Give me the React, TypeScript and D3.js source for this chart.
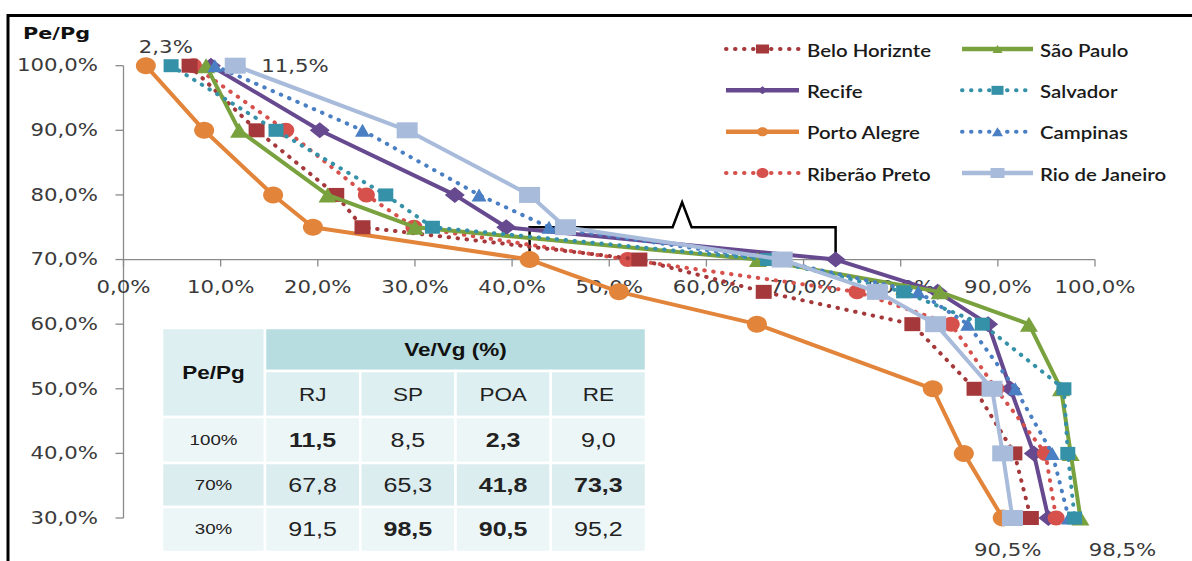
import React from "react";
import * as d3 from "d3";

// ---------- data ----------
const levels = [100, 90, 80, 75, 70, 65, 60, 50, 40, 30];
const beloHorizonte = [6.8, 13.7, 21.9, 24.6, 53.1, 65.9, 81.2, 87.6, 91.7, 93.4];
const recife = [9.0, 20.2, 34.1, 39.4, 73.3, 83.8, 89.0, 91.3, 93.7, 95.2];
const portoAlegre = [2.3, 8.3, 15.4, 19.5, 41.8, 51.0, 65.2, 83.3, 86.5, 90.5];
const ribeiraoPreto = [7.2, 16.7, 25.0, 29.9, 51.9, 75.5, 85.2, 89.8, 94.9, 96.0];
const saoPaulo = [8.5, 11.9, 21.0, 30.0, 65.3, 84.0, 93.2, 96.5, 97.5, 98.5];
const salvador = [4.9, 15.7, 27.0, 31.8, 66.3, 80.3, 88.4, 96.8, 97.2, 97.9];
const campinas = [9.4, 24.6, 36.6, 43.8, 66.8, 81.8, 86.9, 91.8, 95.6, 97.3];
const rioDeJaneiro = [11.5, 29.2, 41.8, 45.5, 67.8, 77.6, 83.6, 89.4, 90.5, 91.5];

const xTicks = [0, 10, 20, 30, 40, 50, 60, 70, 80, 90, 100];
const yTicks = [30, 40, 50, 60, 70, 80, 90, 100];

const tableCols = ["RJ", "SP", "POA", "RE"];
const tableRows = ["100%", "70%", "30%"];
const tableValues = [
  ["11,5", "8,5", "2,3", "9,0"],
  ["67,8", "65,3", "41,8", "73,3"],
  ["91,5", "98,5", "90,5", "95,2"],
];
const tableBold = [
  [true, false, true, false],
  [false, false, true, true],
  [false, true, true, false],
];

// ---------- styles ----------
type Marker = "square" | "circle" | "diamond" | "triangle";
interface Series {
  name: string;
  values: number[];
  color: string;
  dotted: boolean;
  marker: Marker;
  mw: number;
  mh: number;
  lw: number;
  lh: number;
}

const S: Record<string, Series> = {
  bh: { name: "Belo Horiznte", values: beloHorizonte, color: "#A5383A", dotted: true, marker: "square", mw: 16, mh: 14, lw: 13, lh: 9 },
  re: { name: "Recife", values: recife, color: "#66498F", dotted: false, marker: "diamond", mw: 20, mh: 16, lw: 10, lh: 8 },
  poa: { name: "Porto Alegre", values: portoAlegre, color: "#E2843A", dotted: false, marker: "circle", mw: 20, mh: 17, lw: 11, lh: 9 },
  rp: { name: "Riberão Preto", values: ribeiraoPreto, color: "#D6504C", dotted: true, marker: "circle", mw: 17, mh: 15, lw: 12, lh: 10 },
  sp: { name: "São Paulo", values: saoPaulo, color: "#79A23E", dotted: false, marker: "triangle", mw: 18, mh: 15, lw: 10, lh: 8 },
  sal: { name: "Salvador", values: salvador, color: "#3591A8", dotted: true, marker: "square", mw: 15, mh: 13, lw: 12, lh: 9 },
  cam: { name: "Campinas", values: campinas, color: "#4A7FC4", dotted: true, marker: "triangle", mw: 15, mh: 13, lw: 11, lh: 9 },
  rj: { name: "Rio de Janeiro", values: rioDeJaneiro, color: "#A8BBDB", dotted: false, marker: "square", mw: 21, mh: 16, lw: 14, lh: 10 },
};

const drawOrder = ["re", "poa", "rp", "bh", "sp", "cam", "sal", "rj"];
const legendLeft = ["bh", "re", "poa", "rp"];
const legendRight = ["sp", "sal", "cam", "rj"];

const ptLocale = d3.formatLocale({ decimal: ",", thousands: ".", grouping: [3], currency: ["", ""] });
const fmt1 = ptLocale.format(".1f");
const pct = (v: number) => fmt1(v) + "%";

const AX_FONT = "'DejaVu Sans', Verdana, sans-serif";
const LG_FONT = "Lato, 'Open Sans', sans-serif";
const TB_FONT = "'Liberation Sans', Arial, sans-serif";

function SText(props: {
  x: number; y: number; children: React.ReactNode; size: number; family: string;
  anchor?: "start" | "middle" | "end"; weight?: string | number; fill?: string; sx?: number;
}) {
  const { x, y, children, size, family, anchor = "middle", weight = "normal", fill = "#3a3a3a", sx = 1.25 } = props;
  return (
    <text
      transform={`translate(${x},${y}) scale(${sx},1)`}
      textAnchor={anchor}
      dominantBaseline="central"
      fontFamily={family}
      fontSize={size}
      fontWeight={weight}
      fill={fill}
    >
      {children}
    </text>
  );
}

function markerPath(m: Marker, w: number, h: number): string {
  const a = w / 2, b = h / 2;
  if (m === "square") return `M${-a},${-b}H${a}V${b}H${-a}Z`;
  if (m === "diamond") return `M0,${-b}L${a},0L0,${b}L${-a},0Z`;
  if (m === "triangle") return `M0,${-b}L${a},${b}L${-a},${b}Z`;
  const k = 0.5523;
  return `M${-a},0C${-a},${-b * k} ${-a * k},${-b} 0,${-b}C${a * k},${-b} ${a},${-b * k} ${a},0C${a},${b * k} ${a * k},${b} 0,${b}C${-a * k},${b} ${-a},${b * k} ${-a},0Z`;
}

export default function App() {
  const x = d3.scaleLinear().domain([0, 100]).range([123.5, 1095]);
  const y = d3.scaleLinear().domain([30, 100]).range([518, 65.7]);
  const line = d3
    .line<[number, number]>()
    .x((d) => x(d[0]))
    .y((d) => y(d[1]));

  const axisColor = "#8a8a8a";
  const x0 = x(0);
  const yAxisCross = y(70);

  // table layout
  const colX = d3.scaleBand<string>().domain(tableCols).range([265, 646]);
  const tLeft = 162, tFirstColRight = 265;
  const rowTop = [328, 371, 417, 463, 507, 552];
  const rowFill = ["#EDF6F7", "#DCEDEF", "#EDF6F7"];

  const legendRow = d3.scalePoint<number>().domain([0, 1, 2, 3]).range([49, 173]);

  const bracketY = y(75);
  const peakX = x(57.5);

  const renderLegend = (keys: string[], lx1: number, lx2: number, tx: number) =>
    keys.map((k, i) => {
      const s = S[k];
      const ly = legendRow(i) as number;
      const cx = (lx1 + lx2) / 2;
      return (
        <g key={k}>
          <line
            x1={lx1}
            x2={lx2}
            y1={ly}
            y2={ly}
            stroke={s.color}
            strokeWidth={s.dotted ? 4 : 4.5}
            strokeLinecap={s.dotted ? "round" : "butt"}
            strokeDasharray={s.dotted ? "0.5 8.5" : undefined}
          />
          <path d={markerPath(s.marker, s.lw, s.lh)} transform={`translate(${cx},${ly})`} fill={s.color} />
          <SText x={tx} y={ly + 1} size={17} family={LG_FONT} anchor="start" fill="#1a1a1a" weight={600} sx={1.2}>
            {s.name}
          </SText>
        </g>
      );
    });

  return (
    <svg
      width={1192}
      height={561}
      style={{ position: "absolute", left: 0, top: 0, background: "#fff" }}
      xmlns="http://www.w3.org/2000/svg"
    >
      <rect x={0} y={0} width={1192} height={561} fill="#fff" />
      {/* frame */}
      <line x1={7} x2={1192} y1={15.5} y2={15.5} stroke="#000" strokeWidth={3} />
      <line x1={8} x2={8} y1={14} y2={561} stroke="#000" strokeWidth={3} />

      {/* y axis */}
      <line x1={x0} x2={x0} y1={y(100)} y2={y(30)} stroke={axisColor} strokeWidth={1.3} />
      {yTicks.map((t) => (
        <g key={"yt" + t}>
          <line x1={x0 - 8} x2={x0} y1={y(t)} y2={y(t)} stroke={axisColor} strokeWidth={1.3} />
          <SText x={98} y={y(t)} size={17} family={AX_FONT} anchor="end">
            {pct(t)}
          </SText>
        </g>
      ))}
      {/* x axis at 70% */}
      <line x1={x0} x2={x(100)} y1={yAxisCross} y2={yAxisCross} stroke={axisColor} strokeWidth={1.3} />
      {xTicks.map((t) => (
        <g key={"xt" + t}>
          <line x1={x(t)} x2={x(t)} y1={yAxisCross} y2={yAxisCross + 7} stroke={axisColor} strokeWidth={1.3} />
          <SText x={x(t)} y={287} size={17} family={AX_FONT}>
            {pct(t)}
          </SText>
        </g>
      ))}
      <SText x={23} y={33} size={16} family={AX_FONT} anchor="start" weight="bold" fill="#111" sx={1.3}>
        Pe/Pg
      </SText>

      {/* table */}
      <g>
        <rect x={tLeft} y={rowTop[0]} width={tFirstColRight - tLeft} height={rowTop[2] - rowTop[0]} fill="#DDEFF0" stroke="#fff" strokeWidth={2.5} />
        <rect x={tFirstColRight} y={rowTop[0]} width={646 - tFirstColRight} height={rowTop[1] - rowTop[0]} fill="#B7DDE0" stroke="#fff" strokeWidth={2.5} />
        {tableCols.map((c) => (
          <rect key={"h" + c} x={colX(c)} y={rowTop[1]} width={colX.bandwidth()} height={rowTop[2] - rowTop[1]} fill="#DDEFF0" stroke="#fff" strokeWidth={2.5} />
        ))}
        {tableRows.map((r, ri) => (
          <g key={"r" + r}>
            <rect x={tLeft} y={rowTop[ri + 2]} width={tFirstColRight - tLeft} height={rowTop[ri + 3] - rowTop[ri + 2]} fill={rowFill[ri]} stroke="#fff" strokeWidth={2.5} />
            {tableCols.map((c) => (
              <rect key={c} x={colX(c)} y={rowTop[ri + 2]} width={colX.bandwidth()} height={rowTop[ri + 3] - rowTop[ri + 2]} fill={rowFill[ri]} stroke="#fff" strokeWidth={2.5} />
            ))}
          </g>
        ))}
        <SText x={(tLeft + tFirstColRight) / 2} y={373} size={18} family={TB_FONT} weight="bold" fill="#111">
          Pe/Pg
        </SText>
        <SText x={(tFirstColRight + 646) / 2} y={350} size={18} family={TB_FONT} weight="bold" fill="#111">
          Ve/Vg (%)
        </SText>
        {tableCols.map((c) => (
          <SText key={"ct" + c} x={(colX(c) as number) + colX.bandwidth() / 2} y={395} size={18} family={TB_FONT} fill="#222">
            {c}
          </SText>
        ))}
        {tableRows.map((r, ri) => {
          const cy = (rowTop[ri + 2] + rowTop[ri + 3]) / 2;
          return (
            <g key={"rt" + r}>
              <SText x={(tLeft + tFirstColRight) / 2} y={cy} size={15} family={TB_FONT} fill="#222">
                {r}
              </SText>
              {tableCols.map((c, ci) => (
                <SText
                  key={c}
                  x={(colX(c) as number) + colX.bandwidth() / 2}
                  y={cy}
                  size={20}
                  family={TB_FONT}
                  weight={tableBold[ri][ci] ? "bold" : "normal"}
                  fill="#222"
                >
                  {tableValues[ri][ci]}
                </SText>
              ))}
            </g>
          );
        })}
      </g>

      {/* bracket annotation */}
      <path
        d={`M${x(41.8)},${y(70)}V${bracketY}H${peakX - 9.5}L${peakX},${bracketY - 25}L${peakX + 9.5},${bracketY}H${x(73.3)}V${y(70)}`}
        fill="none"
        stroke="#000"
        strokeWidth={2.5}
      />

      {/* series */}
      {drawOrder.map((k) => {
        const s = S[k];
        const pts: [number, number][] = s.values.map((v, i) => [v, levels[i]]);
        return (
          <g key={k}>
            <path
              d={line(pts) || ""}
              fill="none"
              stroke={s.color}
              strokeWidth={4}
              strokeLinecap={s.dotted ? "round" : "butt"}
              strokeLinejoin="round"
              strokeDasharray={s.dotted ? "0.5 8.5" : undefined}
            />
            {pts.map((p, i) => (
              <path key={i} d={markerPath(s.marker, s.mw, s.mh)} transform={`translate(${x(p[0])},${y(p[1])})`} fill={s.color} />
            ))}
          </g>
        );
      })}

      {/* value labels */}
      <SText x={x(portoAlegre[0]) + 20} y={y(100) - 18} size={17} family={AX_FONT}>
        {fmt1(portoAlegre[0]) + "%"}
      </SText>
      <SText x={x(rioDeJaneiro[0]) + 26} y={y(100) + 1} size={17} family={AX_FONT} anchor="start">
        {fmt1(rioDeJaneiro[0]) + "%"}
      </SText>
      <SText x={x(portoAlegre[9]) + 5} y={y(30) + 32} size={17} family={AX_FONT}>
        {fmt1(portoAlegre[9]) + "%"}
      </SText>
      <SText x={x(saoPaulo[9]) + 42} y={y(30) + 32} size={17} family={AX_FONT}>
        {fmt1(saoPaulo[9]) + "%"}
      </SText>

      {/* legend */}
      {renderLegend(legendLeft, 726, 799, 807)}
      {renderLegend(legendRight, 962, 1033, 1040)}
    </svg>
  );
}
